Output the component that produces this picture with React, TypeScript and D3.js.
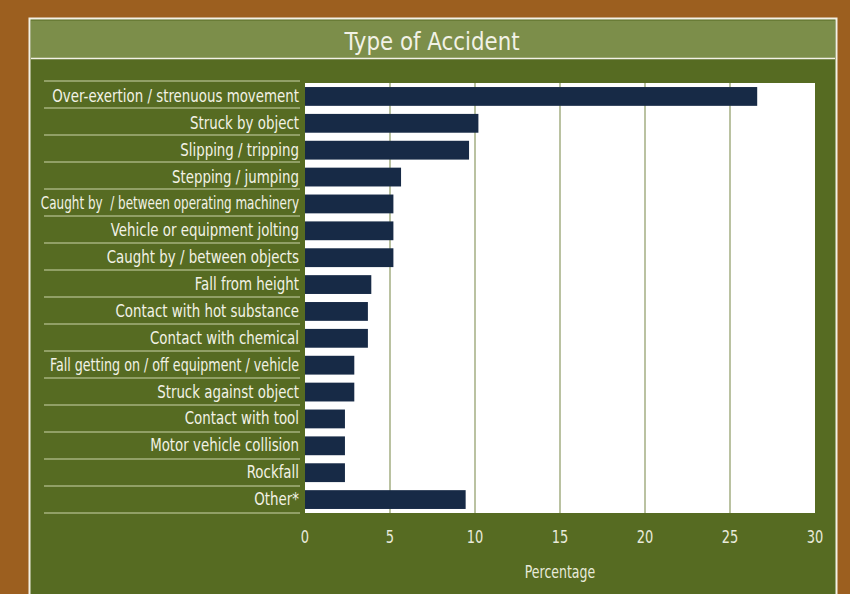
import React from "react";
import * as d3 from "d3";

const categories = [
  "Over-exertion / strenuous movement",
  "Struck by object",
  "Slipping / tripping",
  "Stepping / jumping",
  "Caught by  / between operating machinery",
  "Vehicle or equipment jolting",
  "Caught by / between objects",
  "Fall from height",
  "Contact with hot substance",
  "Contact with chemical",
  "Fall getting on / off equipment / vehicle",
  "Struck against object",
  "Contact with tool",
  "Motor vehicle collision",
  "Rockfall",
  "Other*",
];
const values = [26.6, 10.2, 9.65, 5.65, 5.2, 5.2, 5.2, 3.9, 3.7, 3.7, 2.9, 2.9, 2.35, 2.35, 2.35, 9.45];
const xTicks = [0, 5, 10, 15, 20, 25, 30];
const title = "Type of Accident";
const xLabel = "Percentage";

const FONT = "'DejaVu Sans Condensed', 'DejaVu Sans', sans-serif";

export default function App() {
  const W = 850, H = 594;
  const x = d3.scaleLinear().domain([0, 30]).range([305, 815]);
  const yBar = d3.scaleBand<string>().domain(categories).range([83, 513]).paddingInner(0.3).paddingOuter(0.15);
  const yLab = d3.scaleBand<string>().domain(categories).range([81, 513]);
  const textColor = "#F2F2E6";
  const squeeze = (i: number) => (i === 4 ? 0.785 : i === 10 ? 0.83 : 0.875);
  return (
    <svg width={W} height={H} style={{ position: "fixed", left: 0, top: 0, display: "block" }}>
      <rect x={0} y={0} width={W} height={H} fill="#9C5F1F" />
      <rect x={29.5} y={18.5} width={807} height={H} fill="#566B22" stroke="#F3F1E6" strokeWidth={2} />
      <rect x={31} y={20.5} width={804} height={37.5} fill="#7C8E4A" />
      <line x1={31} x2={835} y1={58.5} y2={58.5} stroke="#F3F1E6" strokeWidth={1.5} />
      <text transform={`translate(432,49.5) scale(0.95,1)`} textAnchor="middle" fill={textColor} fontFamily={FONT} fontSize={25}>{title}</text>
      <rect x={x(0)} y={83} width={x(30) - x(0)} height={430} fill="#FFFFFF" />
      {xTicks.filter(t => t > 0 && t < 30).map(t => (
        <line key={t} x1={x(t)} x2={x(t)} y1={83} y2={513} stroke="#A3AE82" strokeWidth={1.5} />
      ))}
      {categories.map((c, i) => (
        <rect key={c} x={x(0)} y={yBar(c)} width={x(values[i]) - x(0)} height={yBar.bandwidth()} fill="#172A46" />
      ))}
      {categories.map(c => (
        <line key={"l" + c} x1={44} x2={300} y1={yLab(c)} y2={yLab(c)} stroke="#A6B27E" strokeWidth={1.5} />
      ))}
      <line x1={44} x2={300} y1={513} y2={513} stroke="#A6B27E" strokeWidth={1.5} />
      {categories.map((c, i) => (
        <text key={"t" + c} transform={`translate(299,${(yBar(c) ?? 0) + yBar.bandwidth() / 2 + 5.5}) scale(${squeeze(i)},1)`} textAnchor="end" fill={textColor} fontFamily={FONT} fontSize={17} style={{ whiteSpace: "pre" }}>{c}</text>
      ))}
      {xTicks.map(t => (
        <text key={"x" + t} transform={`translate(${x(t)},543) scale(0.85,1)`} textAnchor="middle" fill="#E8EADB" fontFamily={FONT} fontSize={17}>{t}</text>
      ))}
      <text transform={`translate(${(x(0) + x(30)) / 2},578) scale(0.82,1)`} textAnchor="middle" fill="#E8EADB" fontFamily={FONT} fontSize={17}>{xLabel}</text>
    </svg>
  );
}
